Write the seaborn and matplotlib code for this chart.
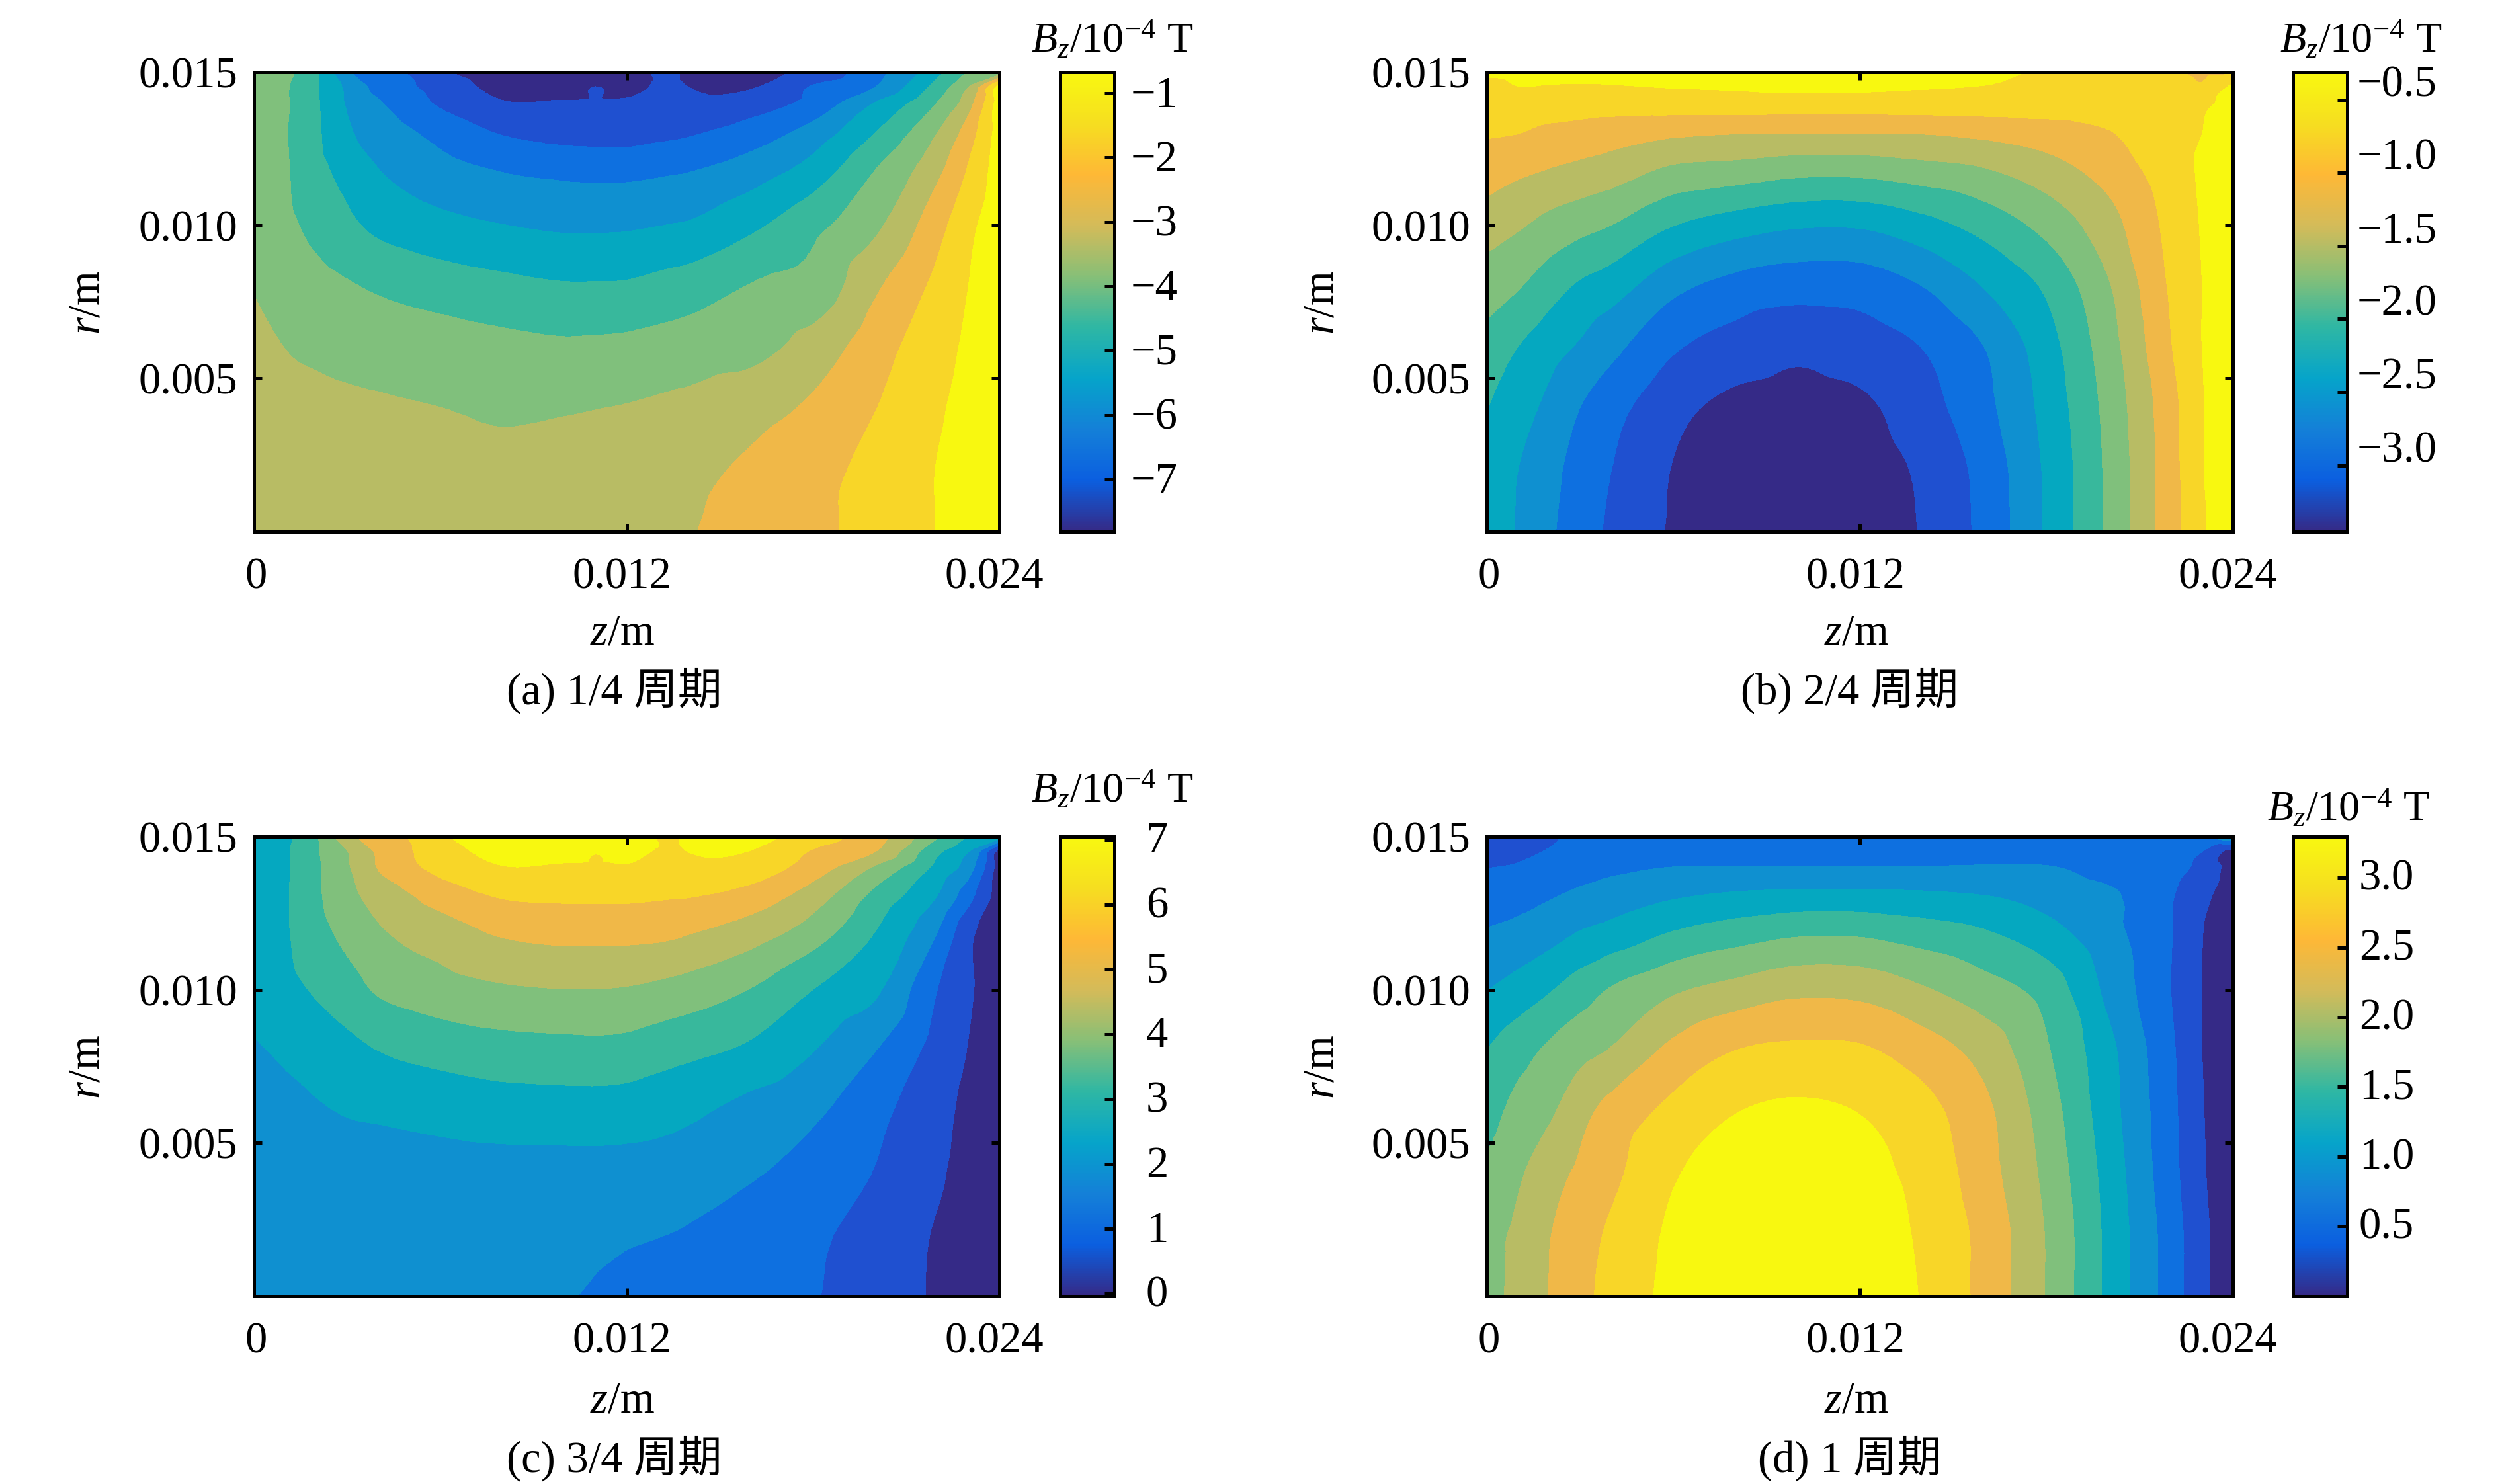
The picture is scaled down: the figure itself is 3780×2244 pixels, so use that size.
import numpy as np
import matplotlib
matplotlib.use("Agg")
import matplotlib.pyplot as plt
import matplotlib.tri as mtri
from matplotlib.cm import ScalarMappable
from matplotlib.colors import Normalize
from matplotlib.transforms import ScaledTranslation
import seaborn as sns

# ---------- data (z and r in mm, Bz in 1e-4 T) ----------
r_mm = [0, 2, 4, 6, 8, 10, 12, 13, 14, 14.5, 15]
z_ac = [0, 1, 2, 3, 4, 6, 8, 10, 11, 12, 13.5, 14, 16, 18, 20, 22, 23, 24]
z_bd = [0, 1, 2, 3, 4, 6, 8, 10, 12, 14, 16, 18, 20, 22, 23, 24]

Bz_a = [
    [-3.05, -3.08, -3.10, -3.10, -3.10, -3.05, -3.00, -2.95, -2.88, -2.80, -2.69, -2.65, -2.35, -2.10, -1.75, -1.30, -0.95, -0.70],
    [-3.10, -3.15, -3.18, -3.20, -3.22, -3.22, -3.20, -3.12, -3.06, -3.00, -2.84, -2.78, -2.50, -2.15, -1.80, -1.30, -1.00, -0.70],
    [-3.08, -3.15, -3.18, -3.20, -3.22, -3.26, -3.32, -3.30, -3.27, -3.23, -3.13, -3.10, -2.85, -2.50, -1.98, -1.42, -1.05, -0.72],
    [-3.10, -3.27, -3.35, -3.42, -3.48, -3.60, -3.72, -3.80, -3.78, -3.75, -3.64, -3.60, -3.47, -3.00, -2.25, -1.55, -1.20, -0.75],
    [-3.30, -3.55, -3.70, -3.85, -4.00, -4.22, -4.38, -4.50, -4.50, -4.48, -4.31, -4.25, -3.88, -3.70, -2.72, -1.80, -1.32, -0.80],
    [-3.50, -3.78, -4.08, -4.42, -4.72, -5.02, -5.20, -5.32, -5.32, -5.30, -5.19, -5.15, -4.70, -4.10, -3.40, -2.20, -1.50, -0.90],
    [-3.55, -3.85, -4.40, -4.82, -5.25, -5.72, -5.98, -6.12, -6.15, -6.15, -6.04, -6.00, -5.65, -5.05, -4.00, -2.85, -1.96, -1.00],
    [-3.60, -3.87, -4.45, -5.12, -5.45, -6.05, -6.55, -6.75, -6.80, -6.80, -6.64, -6.58, -6.20, -5.58, -4.56, -3.26, -2.30, -1.05],
    [-3.65, -3.85, -4.48, -5.28, -5.80, -6.60, -7.12, -7.12, -7.12, -7.10, -7.08, -7.08, -6.85, -6.30, -5.20, -3.91, -2.90, -1.00],
    [-3.70, -3.85, -4.50, -5.35, -6.05, -6.75, -7.35, -7.35, -7.15, -7.30, -7.05, -7.16, -7.20, -6.45, -5.86, -4.30, -3.26, -1.00],
    [-3.20, -3.70, -4.50, -5.75, -6.10, -7.05, -7.50, -7.50, -7.45, -7.40, -7.05, -7.35, -7.40, -6.95, -6.10, -4.75, -3.95, -3.70],
]
Bz_b = [
    [-2.15, -2.33, -2.55, -2.75, -2.93, -3.20, -3.35, -3.40, -3.30, -3.15, -2.80, -2.28, -1.68, -1.00, -0.65, -0.35],
    [-2.13, -2.31, -2.50, -2.72, -2.88, -3.18, -3.33, -3.38, -3.30, -3.12, -2.78, -2.27, -1.68, -1.00, -0.62, -0.36],
    [-2.02, -2.20, -2.38, -2.60, -2.78, -3.08, -3.25, -3.28, -3.23, -3.00, -2.68, -2.22, -1.65, -0.98, -0.62, -0.38],
    [-1.85, -2.03, -2.20, -2.35, -2.52, -2.85, -3.00, -3.10, -3.02, -2.88, -2.60, -2.15, -1.58, -0.90, -0.60, -0.38],
    [-1.60, -1.72, -1.90, -2.07, -2.18, -2.52, -2.70, -2.77, -2.76, -2.60, -2.30, -1.98, -1.48, -0.85, -0.60, -0.38],
    [-1.32, -1.42, -1.55, -1.65, -1.74, -2.02, -2.18, -2.28, -2.28, -2.13, -1.92, -1.65, -1.28, -0.80, -0.58, -0.38],
    [-1.00, -1.08, -1.14, -1.20, -1.26, -1.45, -1.50, -1.57, -1.57, -1.50, -1.42, -1.25, -1.02, -0.72, -0.56, -0.40],
    [-0.85, -0.88, -0.95, -1.00, -1.05, -1.12, -1.16, -1.165, -1.165, -1.16, -1.10, -1.03, -0.90, -0.70, -0.60, -0.42],
    [-0.70, -0.72, -0.74, -0.74, -0.74, -0.73, -0.72, -0.72, -0.72, -0.72, -0.72, -0.72, -0.72, -0.70, -0.66, -0.50],
    [-0.68, -0.605, -0.62, -0.63, -0.62, -0.59, -0.57, -0.54, -0.55, -0.58, -0.61, -0.66, -0.68, -0.72, -0.85, -0.55],
    [-0.55, -0.53, -0.50, -0.50, -0.50, -0.47, -0.45, -0.45, -0.45, -0.47, -0.52, -0.63, -0.68, -0.80, -0.95, -0.95],
]
Bz_c = [
    [2.12, 2.12, 2.12, 2.12, 2.12, 2.08, 2.02, 1.92, 1.85, 1.75, 1.65, 1.60, 1.42, 1.28, 0.95, 0.52, 0.30, 0.10],
    [2.15, 2.14, 2.14, 2.14, 2.13, 2.12, 2.08, 2.02, 1.98, 1.95, 1.88, 1.84, 1.58, 1.36, 0.98, 0.55, 0.30, 0.10],
    [2.20, 2.20, 2.20, 2.22, 2.25, 2.28, 2.30, 2.30, 2.30, 2.28, 2.22, 2.18, 1.95, 1.65, 1.22, 0.70, 0.35, 0.10],
    [2.30, 2.38, 2.47, 2.57, 2.63, 2.75, 2.85, 2.88, 2.88, 2.85, 2.72, 2.65, 2.30, 2.00, 1.42, 0.80, 0.45, 0.12],
    [2.48, 2.62, 2.78, 2.98, 3.18, 3.40, 3.55, 3.60, 3.62, 3.58, 3.38, 3.32, 3.05, 2.55, 1.90, 1.00, 0.58, 0.15],
    [2.72, 3.00, 3.25, 3.55, 3.90, 4.20, 4.38, 4.46, 4.46, 4.42, 4.25, 4.18, 3.80, 3.18, 2.65, 1.25, 0.70, 0.20],
    [2.80, 3.12, 3.60, 4.05, 4.42, 4.85, 5.25, 5.38, 5.38, 5.38, 5.30, 5.22, 4.85, 4.22, 3.22, 1.95, 0.80, 0.25],
    [2.90, 3.12, 3.70, 4.30, 4.65, 5.35, 5.78, 5.85, 5.85, 5.85, 5.78, 5.76, 5.45, 4.75, 3.60, 2.50, 1.45, 0.28],
    [2.90, 3.10, 3.72, 4.40, 5.15, 5.95, 6.38, 6.33, 6.33, 6.36, 6.33, 6.32, 6.15, 5.45, 4.40, 3.00, 2.20, 0.30],
    [2.90, 3.10, 3.75, 4.45, 5.20, 6.10, 6.60, 6.60, 6.43, 6.55, 6.30, 6.41, 6.38, 5.70, 5.12, 3.30, 2.54, 0.30],
    [2.40, 3.00, 3.78, 4.95, 5.30, 6.30, 6.80, 6.85, 6.75, 6.80, 6.30, 6.60, 6.65, 6.05, 5.40, 3.92, 3.20, 2.90],
]
Bz_d = [
    [2.00, 2.18, 2.40, 2.62, 2.78, 3.08, 3.22, 3.27, 3.18, 2.98, 2.60, 2.08, 1.42, 0.75, 0.38, 0.08],
    [2.02, 2.15, 2.38, 2.58, 2.74, 3.05, 3.20, 3.25, 3.16, 2.95, 2.60, 2.08, 1.42, 0.75, 0.38, 0.08],
    [1.85, 2.05, 2.28, 2.45, 2.62, 2.97, 3.10, 3.15, 3.09, 2.90, 2.52, 2.02, 1.38, 0.70, 0.34, 0.08],
    [1.67, 1.90, 2.05, 2.30, 2.50, 2.78, 2.99, 3.05, 2.99, 2.80, 2.47, 1.95, 1.32, 0.68, 0.32, 0.08],
    [1.50, 1.68, 1.85, 2.00, 2.12, 2.48, 2.70, 2.76, 2.74, 2.55, 2.28, 1.83, 1.28, 0.65, 0.30, 0.08],
    [1.19, 1.32, 1.47, 1.65, 1.82, 2.05, 2.20, 2.32, 2.30, 2.13, 1.92, 1.68, 1.12, 0.60, 0.30, 0.08],
    [0.90, 0.96, 1.05, 1.18, 1.26, 1.47, 1.60, 1.70, 1.70, 1.60, 1.49, 1.28, 0.98, 0.61, 0.31, 0.09],
    [0.74, 0.80, 0.88, 0.98, 1.06, 1.18, 1.27, 1.31, 1.31, 1.28, 1.22, 1.10, 0.95, 0.62, 0.38, 0.10],
    [0.59, 0.62, 0.68, 0.75, 0.82, 0.90, 0.905, 0.905, 0.905, 0.91, 0.92, 0.91, 0.80, 0.68, 0.52, 0.15],
    [0.50, 0.55, 0.61, 0.66, 0.70, 0.75, 0.75, 0.72, 0.75, 0.75, 0.78, 0.80, 0.78, 0.72, 0.60, 0.18],
    [0.42, 0.50, 0.57, 0.66, 0.70, 0.72, 0.68, 0.58, 0.70, 0.72, 0.75, 0.78, 0.80, 0.80, 0.95, 1.25],
]
ranges = [(-7.81, -0.67), (-3.453, -0.312), (-0.04, 7.05), (-0.003, 3.296)]
cbar_ticks_a = [-1, -2, -3, -4, -5, -6, -7]
cbar_ticks_b = [-0.5, -1.0, -1.5, -2.0, -2.5, -3.0]
cbar_ticks_c = [0, 1, 2, 3, 4, 5, 6, 7]
cbar_ticks_d = [0.5, 1.0, 1.5, 2.0, 2.5, 3.0]
captions = ["(a) 1/4 周期", "(b) 2/4 周期", "(c) 3/4 周期", "(d) 1 周期"]

# ---------- style ----------
W, H = 3780, 2244
sns.set_theme(style="ticks")
plt.rcParams.update({
    "font.family": ["Liberation Serif", "Noto Sans CJK SC"],
    "font.size": 16,
    "mathtext.fontset": "custom",
    "mathtext.rm": "Liberation Serif",
    "mathtext.it": "Liberation Serif:italic",
    "axes.linewidth": 1.2,
    "axes.axisbelow": False,
    "axes.unicode_minus": True,
    "xtick.color": "black",
    "ytick.color": "black",
    "text.color": "black",
    "axes.edgecolor": "black",
})
band_colours = ["#352a87", "#1f50d0", "#0e70e0", "#0f90d0", "#05a8c0", "#38b89c",
                "#80c07c", "#b8bc64", "#f0b848", "#f8d628", "#f8f810"]
gradient = sns.blend_palette(["#352a87", "#0b5fe0", "#1480d8", "#06a4ca", "#2eb7a4",
                              "#87bf77", "#d4bb59", "#feb836", "#f6de20", "#f8f810"],
                             as_cmap=True)

panels = [
    dict(Z=Bz_a, z=z_ac, ticks=cbar_ticks_a, fmt="{:d}", x0=384, x1=1511, y0=109, y1=804,
         cx0=1603, cx1=1685, title=(1682, 62), ylab=133, xlab=941, cap=929, pad=6, lab_dy=3, low=0),
    dict(Z=Bz_b, z=z_bd, ticks=cbar_ticks_b, fmt="{:.1f}", x0=2248, x1=3376, y0=109, y1=804,
         cx0=3467, cx1=3549, title=(3570, 62), ylab=1999, xlab=2807, cap=2797, pad=3.6, lab_dy=29, low=0),
    dict(Z=Bz_c, z=z_ac, ticks=cbar_ticks_c, fmt="{:d}", x0=384, x1=1511, y0=1265, y1=1960,
         cx0=1603, cx1=1685, title=(1682, 1196), ylab=133, xlab=941, cap=929, pad=11.5, lab_dy=4, low=5),
    dict(Z=Bz_d, z=z_bd, ticks=cbar_ticks_d, fmt="{:.1f}", x0=2248, x1=3376, y0=1265, y1=1960,
         cx0=3467, cx1=3549, title=(3551, 1224), ylab=1999, xlab=2807, cap=2797, pad=4.3, lab_dy=5, low=5),
]

fig = plt.figure(figsize=(W / 300, H / 300), dpi=300, facecolor="white")

def box(x0, y0, x1, y1):
    return [x0 / W, 1 - y1 / H, (x1 - x0) / W, (y1 - y0) / H]

def shift(label, dx_px, dy_px):
    label.set_transform(label.get_transform() +
                        ScaledTranslation(dx_px / 300, dy_px / 300, fig.dpi_scale_trans))

for p, (vmin, vmax), cap in zip(panels, ranges, captions):
    ax = fig.add_axes(box(p["x0"], p["y0"], p["x1"], p["y1"]))
    zz, rr = np.meshgrid(np.array(p["z"]) / 1000, np.array(r_mm) / 1000)
    # the library's own contour smoothing: the read values stay at the nodes
    tri = mtri.Triangulation(zz.ravel() / 0.024, rr.ravel() / 0.015)
    field = np.array(p["Z"]).ravel()
    refiner = mtri.UniformTriRefiner(tri)
    interp = mtri.CubicTriInterpolator(tri, field, kind="geom")
    fine_tri, fine_val = refiner.refine_field(field, triinterpolator=interp, subdiv=3)
    levels = np.linspace(vmin, vmax, 12)
    ax.tricontourf(fine_tri.x * 0.024, fine_tri.y * 0.015, fine_tri.triangles, fine_val,
                   levels=levels, colors=band_colours, extend="both")
    ax.set_xlim(0, 0.024)
    ax.set_ylim(0, 0.015)
    ax.set_xticks([0, 0.012, 0.024], ["0", "0.012", "0.024"])
    ax.set_yticks([0.005, 0.010, 0.015], ["0.005", "0.010", "0.015"])
    ax.tick_params(direction="in", top=True, right=True, length=2.9, width=1.2, labelsize=16)
    ax.tick_params(axis="x", pad=9.2)
    ax.tick_params(axis="y", pad=6)
    xl = ax.get_xticklabels()
    shift(xl[0], 3, 0)
    shift(xl[1], -7, 0)
    shift(xl[2], -8, 0)

    cax = fig.add_axes(box(p["cx0"], p["y0"], p["cx1"], p["y1"]))
    sm = ScalarMappable(norm=Normalize(vmin, vmax), cmap=gradient)
    cb = fig.colorbar(sm, cax=cax)
    cb.outline.set_linewidth(1.2)
    cb.set_ticks(p["ticks"], labels=[p["fmt"].format(t).replace("-", "\u2212") for t in p["ticks"]])
    cax.tick_params(direction="in", right=True, left=False, length=3.5, width=1.2,
                    labelsize=16, pad=p["pad"])
    for lab in cax.get_yticklabels():
        shift(lab, 0, p["lab_dy"])

    ymid = (p["y0"] + p["y1"]) / 2
    fig.text(p["ylab"] / W, 1 - (ymid + 1) / H, r"$r$/m", rotation=90, ha="center", va="center", fontsize=16)
    fig.text(p["xlab"] / W, 1 - (p["y1"] + 154 + p["low"]) / H, r"$z$/m", ha="center", va="center", fontsize=16)
    fig.text(p["cap"] / W, 1 - (p["y1"] + 240 + p["low"]) / H, cap, ha="center", va="center", fontsize=16)
    fig.text(p["title"][0] / W, 1 - p["title"][1] / H, r"$B_z$/10$^{-4}$ T", ha="center", va="center", fontsize=15.4)

fig.savefig("out.png", dpi=300, facecolor="white")
